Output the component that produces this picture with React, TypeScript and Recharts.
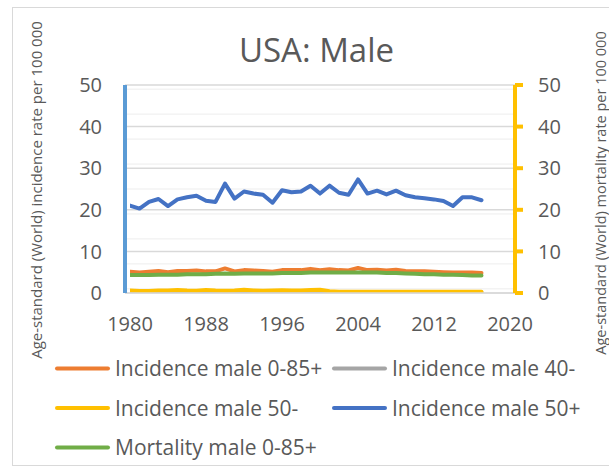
import React from "react";
import { LineChart, Line, XAxis, YAxis, CartesianGrid } from "recharts";

const years = [1980, 1981, 1982, 1983, 1984, 1985, 1986, 1987, 1988, 1989, 1990, 1991, 1992, 1993, 1994, 1995, 1996, 1997, 1998, 1999, 2000, 2001, 2002, 2003, 2004, 2005, 2006, 2007, 2008, 2009, 2010, 2011, 2012, 2013, 2014, 2015, 2016, 2017];

const incidence085 = [5.1, 4.9, 5.1, 5.3, 5.0, 5.3, 5.3, 5.4, 5.2, 5.2, 5.9, 5.2, 5.5, 5.4, 5.3, 5.1, 5.5, 5.5, 5.5, 5.8, 5.5, 5.7, 5.5, 5.4, 6.0, 5.5, 5.6, 5.4, 5.6, 5.3, 5.2, 5.2, 5.1, 5.0, 4.9, 4.9, 4.9, 4.8];
const incidence40minus = [0.15, 0.15, 0.2, 0.15, 0.2, 0.15, 0.15, 0.2, 0.15, 0.15, 0.2, 0.15, 0.2, 0.15, 0.15, 0.2, 0.15, 0.15, 0.2, 0.15, 0.15, 0.2, 0.2, 0.2, 0.2, 0.2, 0.2, 0.2, 0.2, 0.2, 0.2, 0.2, 0.2, 0.2, 0.2, 0.2, 0.2, 0.2];
const incidence50minus = [0.6, 0.5, 0.5, 0.6, 0.6, 0.75, 0.6, 0.55, 0.75, 0.6, 0.55, 0.6, 0.8, 0.6, 0.55, 0.6, 0.65, 0.6, 0.6, 0.7, 0.8, 0.4, 0.3, 0.3, 0.3, 0.3, 0.3, 0.3, 0.3, 0.3, 0.3, 0.3, 0.3, 0.3, 0.3, 0.3, 0.3, 0.3];
const incidence50plus = [21.0, 20.3, 21.9, 22.6, 20.9, 22.5, 23.0, 23.4, 22.2, 21.9, 26.3, 22.7, 24.4, 23.9, 23.6, 21.7, 24.7, 24.2, 24.4, 25.8, 23.9, 25.8, 24.1, 23.6, 27.3, 23.9, 24.6, 23.7, 24.6, 23.5, 23.0, 22.8, 22.5, 22.1, 20.9, 23.0, 23.0, 22.3];
const mortality085 = [4.3, 4.3, 4.3, 4.4, 4.4, 4.4, 4.5, 4.5, 4.5, 4.6, 4.7, 4.6, 4.7, 4.7, 4.7, 4.7, 4.8, 4.8, 4.8, 4.9, 4.9, 4.9, 4.9, 4.9, 4.9, 4.9, 4.9, 4.8, 4.8, 4.7, 4.6, 4.5, 4.5, 4.4, 4.4, 4.3, 4.2, 4.2];

const xTicks = [1980, 1988, 1996, 2004, 2012, 2020];
const yTicks = [0, 10, 20, 30, 40, 50];
const minorTicks = [1, 2, 3, 4, 5, 6, 7, 8, 9, 11, 12, 13, 14, 15, 16, 17, 18, 19, 21, 22, 23, 24, 25, 26, 27, 28, 29, 31, 32, 33, 34, 35, 36, 37, 38, 39, 41, 42, 43, 44, 45, 46, 47, 48, 49];

const title = "USA: Male";
const leftTitle = "Age-standard (World) incidence rate per 100 000";
const rightTitle = "Age-standard (World) mortality rate per 100 000";

const series = [
  { key: "inc085", name: "Incidence male 0-85+", color: "#ED7D31", axis: "left", values: incidence085 },
  { key: "inc40m", name: "Incidence male 40-", color: "#A5A5A5", axis: "left", values: incidence40minus },
  { key: "inc50m", name: "Incidence male 50-", color: "#FFC000", axis: "left", values: incidence50minus },
  { key: "inc50p", name: "Incidence male 50+", color: "#4472C4", axis: "left", values: incidence50plus },
  { key: "mort085", name: "Mortality male 0-85+", color: "#70AD47", axis: "right", values: mortality085 },
];

const data = years.map((y, i) => {
  const row: Record<string, number> = { year: y };
  series.forEach((s) => {
    row[s.key] = s.values[i];
  });
  return row;
});

const FONT = "'Open Sans', 'Noto Sans', sans-serif";
const TXT = "#595959";

export default function App() {
  const legendPos = [
    { x: 57, y: 368.5 },
    { x: 334, y: 368.5 },
    { x: 57, y: 408 },
    { x: 334, y: 408 },
    { x: 57, y: 447.5 },
  ];
  return (
    <div style={{ position: "absolute", left: 0, top: 0, width: 609, height: 467, background: "#fff", overflow: "hidden", fontFamily: FONT }}>
      <div style={{ position: "absolute", left: 12, top: 7, width: 640, height: 457, border: "1px solid #D9D9D9" }} />
      <div style={{ position: "absolute", left: 0, top: 0 }}>
        <LineChart width={609} height={467} data={data} margin={{ top: 85, right: 0, left: 0, bottom: 144 }}>
          <CartesianGrid yAxisId="left" horizontal={true} vertical={false} stroke="#EDEDED" strokeWidth={1} horizontalValues={minorTicks} />
          <CartesianGrid yAxisId="left" horizontal={true} vertical={false} stroke="#D9D9D9" strokeWidth={1.5} horizontalValues={yTicks} />
          <XAxis
            dataKey="year"
            type="number"
            domain={[1980, 2020]}
            ticks={xTicks}
            padding={{ left: 5, right: 5 }}
            height={30}
            axisLine={{ stroke: "#D9D9D9", strokeWidth: 1.5 }}
            tickLine={false}
            tickSize={0}
            tickMargin={24}
            tick={{ fill: TXT, fontSize: 20, fontFamily: FONT }}
            allowDataOverflow
          />
          <YAxis
            yAxisId="left"
            orientation="left"
            width={125}
            domain={[0, 50]}
            ticks={yTicks}
            axisLine={{ stroke: "#5B9BD5", strokeWidth: 4 }}
            tickLine={false}
            tickSize={0}
            tickMargin={23}
            tick={{ fill: TXT, fontSize: 20, fontFamily: FONT }}
            allowDataOverflow
          />
          <YAxis
            yAxisId="right"
            orientation="right"
            width={94}
            domain={[0, 50]}
            ticks={yTicks}
            axisLine={{ stroke: "#FFC000", strokeWidth: 4 }}
            tickLine={{ stroke: "#FFC000", strokeWidth: 4 }}
            tickSize={8}
            tickMargin={15}
            tick={{ fill: TXT, fontSize: 20, fontFamily: FONT }}
            allowDataOverflow
          />
          {series.map((s) => (
            <Line
              key={s.key}
              yAxisId={s.axis}
              dataKey={s.key}
              name={s.name}
              type="linear"
              stroke={s.color}
              strokeWidth={4}
              strokeLinecap="round"
              strokeLinejoin="round"
              dot={false}
              activeDot={false}
              isAnimationActive={false}
            />
          ))}
        </LineChart>
      </div>
      <svg width={609} height={467} style={{ position: "absolute", left: 0, top: 0, pointerEvents: "none" }}>
        <text x={316.5} y={62} textAnchor="middle" fontSize={33} fill={TXT} fontFamily={FONT}>
          {title}
        </text>
        <text
          x={0}
          y={0}
          transform="translate(42,190) rotate(-90)"
          textAnchor="middle"
          fontSize={15}
          fill={TXT}
          fontFamily={FONT}
        >
          {leftTitle}
        </text>
        <text
          x={0}
          y={0}
          transform="translate(605.5,193) rotate(-90)"
          textAnchor="middle"
          fontSize={14.5}
          fill={TXT}
          fontFamily={FONT}
        >
          {rightTitle}
        </text>
        {series.map((s, i) => {
          const p = legendPos[i];
          return (
            <g key={s.key}>
              <line x1={p.x} x2={p.x + 51} y1={p.y} y2={p.y} stroke={s.color} strokeWidth={4} strokeLinecap="round" />
              <text x={p.x + 58} y={p.y + 7.5} fontSize={21} fill={TXT} fontFamily={FONT}>
                {s.name}
              </text>
            </g>
          );
        })}
      </svg>
    </div>
  );
}
